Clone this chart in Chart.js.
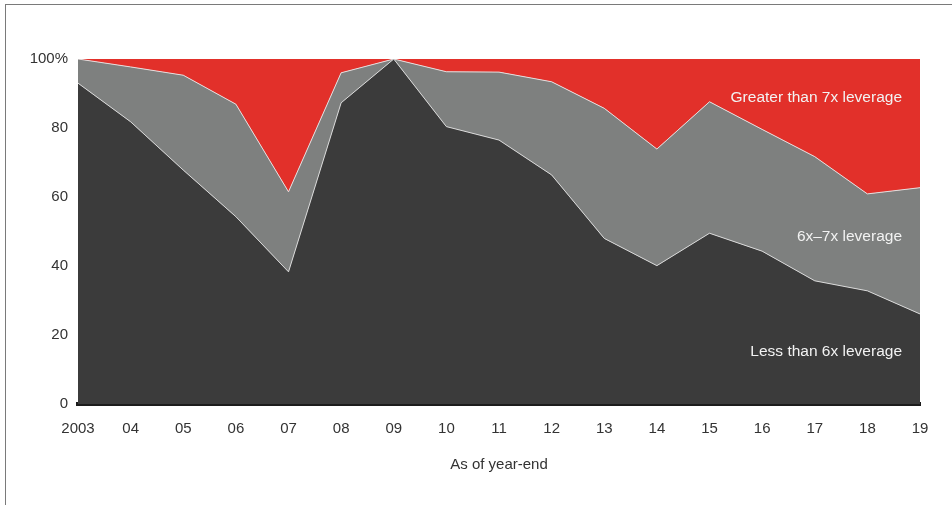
<!DOCTYPE html>
<html>
<head>
<meta charset="utf-8">
<script src="https://cdn.jsdelivr.net/npm/chart.js@4/dist/chart.umd.min.js"></script>
<style>
    body { margin: 0; background: #fff; }
    #wrap { position: relative; width: 952px; height: 505px; }
    #frame { position: absolute; left: 5px; top: 4px; right: 0; bottom: 0;
             border-left: 1.5px solid #7a7a7a; border-top: 1.5px solid #7a7a7a; }
    canvas { position: absolute; left: 0; top: 0; }
</style>
</head>
<body>
<div id="wrap">
    <div id="frame"></div>
    <canvas id="chart" width="952" height="505"></canvas>
</div>
<script>
const years = ["2003", "04", "05", "06", "07", "08", "09", "10", "11", "12", "13", "14", "15", "16", "17", "18", "19"];
const seriesNames = ["Less than 6x leverage", "6x\u20137x leverage", "Greater than 7x leverage"];
const lessThan6x = [93.0, 81.8, 67.8, 54.3, 38.3, 87.3, 100, 80.4, 76.5, 66.4, 48.0, 40.1, 49.5, 44.3, 35.7, 32.8, 26.1];
const from6to7x = [7.0, 15.9, 27.5, 32.6, 23.2, 8.7, 0, 15.9, 19.7, 27.0, 37.7, 33.8, 38.1, 35.3, 36.0, 28.1, 36.6];
const over7x = [0, 2.3, 4.7, 13.1, 38.5, 4.0, 0, 3.7, 3.8, 6.6, 14.3, 26.1, 12.4, 20.4, 28.3, 39.1, 37.3];
const yTicks = [0, 20, 40, 60, 80, 100];

const FONT = "'Liberation Sans', Arial, sans-serif";
const colors = ["#3b3b3b", "#7e807f", "#e2302a"];

// series names drawn inside the areas, right aligned
const areaLabels = {
    id: "areaLabels",
    afterDatasetsDraw(chart) {
        const ctx = chart.ctx;
        const y = chart.scales.y;
        const right = chart.chartArea.right - 18;
        const spots = [15.2, 48.5, 88.9];
        ctx.save();
        ctx.font = "15.5px " + FONT;
        ctx.fillStyle = "#f2f2f2";
        ctx.textAlign = "right";
        ctx.textBaseline = "middle";
        seriesNames.forEach((name, i) => {
            ctx.fillText(name, right, y.getPixelForValue(spots[i]));
        });
        ctx.restore();
    }
};

const ctx = document.getElementById("chart").getContext("2d");
new Chart(ctx, {
    type: "line",
    data: {
        labels: years,
        datasets: [
            { label: seriesNames[0], data: lessThan6x, backgroundColor: colors[0], borderColor: "#d9d9d9", borderWidth: 1, fill: "origin" },
            { label: seriesNames[1], data: from6to7x, backgroundColor: colors[1], borderColor: "#e6dcdc", borderWidth: 1, fill: "-1" },
            { label: seriesNames[2], data: over7x, backgroundColor: colors[2], borderColor: colors[2], borderWidth: 0, fill: "-1" }
        ]
    },
    options: {
        responsive: false,
        animation: false,
        layout: { padding: { top: 59, right: 32, left: 0, bottom: 0 } },
        elements: { point: { radius: 0 }, line: { tension: 0 } },
        plugins: { legend: { display: false }, tooltip: { enabled: false } },
        scales: {
            x: {
                offset: false,
                grid: { display: false, drawTicks: false },
                border: { display: true, color: "#1c1c1c", width: 4 },
                ticks: { color: "#333", font: { family: FONT, size: 15 }, padding: 16, maxRotation: 0, autoSkip: false },
                title: { display: true, text: "As of year-end", color: "#333", font: { family: FONT, size: 15 }, padding: { bottom: 31 } },
                afterFit(scale) { scale.height = 101; }
            },
            y: {
                stacked: true,
                min: 0,
                max: 100,
                afterBuildTicks(scale) { scale.ticks = yTicks.map(v => ({ value: v })); },
                grid: { display: false, drawTicks: false },
                border: { display: false },
                ticks: {
                    color: "#333",
                    font: { family: FONT, size: 15 },
                    padding: 10,
                    callback: v => v === 100 ? "100%" : v
                },
                afterFit(scale) { scale.width = 78; }
            }
        }
    },
    plugins: [areaLabels]
});
</script>
</body>
</html>
